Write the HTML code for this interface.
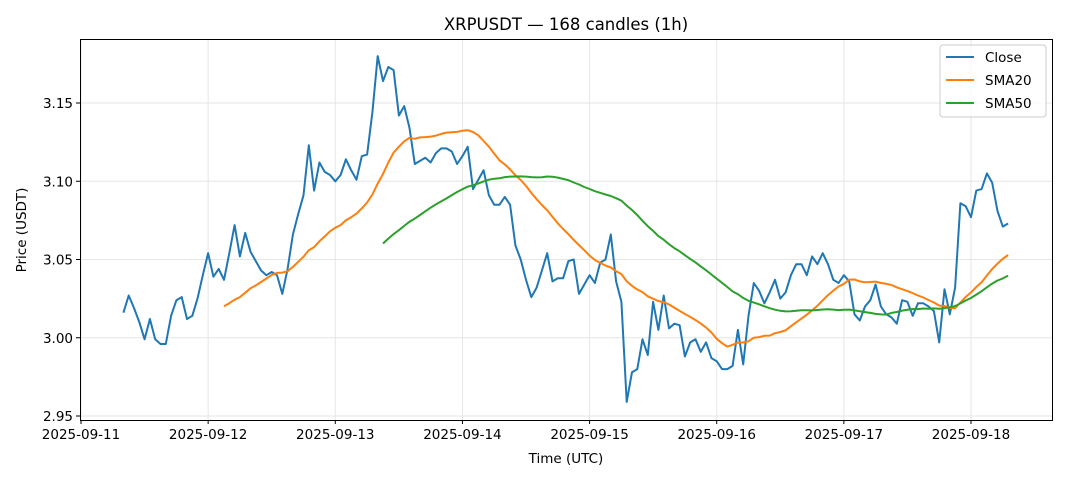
<!DOCTYPE html>
<html><head><meta charset="utf-8"><style>
body{margin:0;background:#fff;}
svg{display:block;font-family:"DejaVu Sans","Liberation Sans",sans-serif;}
</style></head><body>
<svg id="chart" width="1068" height="481" viewBox="0 0 1068 481" xmlns="http://www.w3.org/2000/svg">
<rect width="1068" height="481" fill="#fff"/>
<text x="566" y="30" text-anchor="middle" font-size="16.5">XRPUSDT — 168 candles (1h)</text>
<g id="grid"></g>
<g id="series"></g>
<rect x="80.5" y="39.5" width="972" height="381" fill="none" stroke="#000" stroke-width="1"/>
<g id="axes"></g>
<text x="566" y="463" text-anchor="middle" font-size="13.5">Time (UTC)</text>
<text transform="translate(26,230) rotate(-90)" text-anchor="middle" font-size="13.5">Price (USDT)</text>
<g>
<rect x="940" y="45" width="106" height="72" rx="3" fill="#fff" fill-opacity="0.8" stroke="#ccc"/>
<line x1="946" y1="57" x2="974" y2="57" stroke="#1f77b4" stroke-width="2"/>
<text x="985" y="62" font-size="13.5">Close</text>
<line x1="946" y1="80" x2="974" y2="80" stroke="#ff7f0e" stroke-width="2"/>
<text x="985" y="85" font-size="13.5">SMA20</text>
<line x1="946" y1="103" x2="974" y2="103" stroke="#2ca02c" stroke-width="2"/>
<text x="985" y="108" font-size="13.5">SMA50</text>
</g>
</svg>
<script>
const closeValues=[3.016,3.027,3.019,3.010,2.999,3.012,2.999,2.996,2.996,3.014,3.024,3.026,3.012,3.014,3.025,3.040,3.054,3.039,3.044,3.037,
3.054,3.072,3.052,3.067,3.055,3.049,3.043,3.040,3.042,3.040,3.028,3.044,3.066,3.079,3.091,3.123,3.094,3.112,3.106,3.104,
3.100,3.104,3.114,3.107,3.101,3.116,3.117,3.144,3.180,3.164,3.173,3.171,3.142,3.148,3.134,3.111,3.113,3.115,3.112,3.118,
3.121,3.121,3.119,3.111,3.116,3.122,3.095,3.101,3.107,3.091,3.085,3.085,3.090,3.085,3.059,3.050,3.037,3.026,3.032,3.043,
3.054,3.036,3.038,3.038,3.049,3.050,3.028,3.034,3.040,3.035,3.048,3.050,3.066,3.036,3.023,2.959,2.978,2.980,2.999,2.989,
3.023,3.005,3.027,3.006,3.009,3.008,2.988,2.997,2.999,2.991,2.997,2.987,2.985,2.980,2.980,2.982,3.005,2.983,3.014,3.035,
3.030,3.022,3.029,3.037,3.025,3.029,3.040,3.047,3.047,3.040,3.052,3.047,3.054,3.047,3.037,3.035,3.040,3.036,3.015,3.011,
3.020,3.024,3.034,3.020,3.015,3.013,3.009,3.024,3.023,3.014,3.022,3.022,3.020,3.017,2.997,3.031,3.015,3.032,3.086,3.084,
3.077,3.094,3.095,3.105,3.099,3.081,3.071,3.073];
const startHour=8; // 2025-09-11 08:00 UTC
const xTickLabels=["2025-09-11","2025-09-12","2025-09-13","2025-09-14","2025-09-15","2025-09-16","2025-09-17","2025-09-18"];
const yTickValues=[2.95,3.00,3.05,3.10,3.15];
const NS="http://www.w3.org/2000/svg";
const xScale=h=>81+h*(890/168);
const yScale=v=>416-(v-2.95)*1565;
function sma(arr,n){return arr.map((v,i)=>i<n-1?null:arr.slice(i-n+1,i+1).reduce((a,b)=>a+b,0)/n);}
const grid=document.getElementById('grid'),axes=document.getElementById('axes'),series=document.getElementById('series');
function mk(tag,attrs,parent){const e=document.createElementNS(NS,tag);for(const k in attrs)e.setAttribute(k,attrs[k]);parent.appendChild(e);return e;}
xTickLabels.forEach((lab,i)=>{const x=xScale(i*24);
const g=mk('line',{x1:x,x2:x,y1:40,y2:420,stroke:'#e6e6e6','stroke-width':1},grid);


const t=mk('line',{x1:x,x2:x,y1:420,y2:424,stroke:'#000'},axes);


const tx=mk('text',{x:x,y:439,'text-anchor':'middle','font-size':13.5},axes);tx.textContent=lab;

});
yTickValues.forEach(v=>{const y=yScale(v);
const g=mk('line',{x1:81,x2:1052,y1:y,y2:y,stroke:'#e6e6e6','stroke-width':1},grid);


const t=mk('line',{x1:76,x2:80,y1:y,y2:y,stroke:'#000'},axes);


const tx=mk('text',{x:73,y:y+5,'text-anchor':'end','font-size':13.5},axes);tx.textContent=v.toFixed(2);

});
function line(vals,color,name){const pts=vals.map((v,i)=>v==null?null:xScale(startHour+i).toFixed(1)+','+yScale(v).toFixed(1)).filter(p=>p);
const p=mk('polyline',{points:pts.join(' '),fill:'none',stroke:color,'stroke-width':2,'stroke-linejoin':'round'},series);

}
line(closeValues,'#1f77b4','close-line');
line(sma(closeValues,20),'#ff7f0e','sma20-line');
line(sma(closeValues,50),'#2ca02c','sma50-line');
</script>
</body></html>
